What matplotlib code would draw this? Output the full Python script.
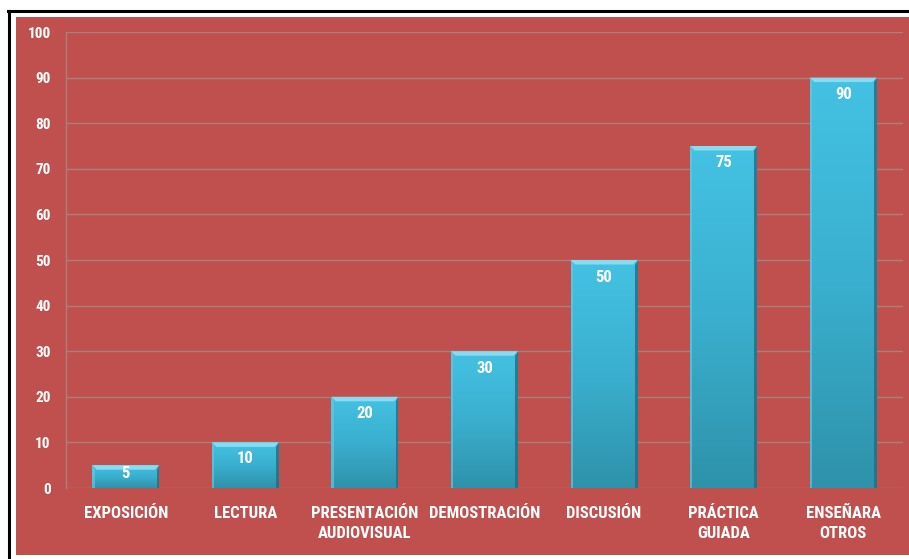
import matplotlib
matplotlib.use("Agg")
import matplotlib.pyplot as plt
import numpy as np
from matplotlib.patches import Rectangle, Polygon
from matplotlib.colors import LinearSegmentedColormap
from matplotlib.lines import Line2D
from matplotlib import font_manager

categories = ["EXPOSICIÓN", "LECTURA", "PRESENTACIÓN\nAUDIOVISUAL", "DEMOSTRACIÓN",
              "DISCUSIÓN", "PRÁCTICA\nGUIADA", "ENSEÑARA\nOTROS"]
values = [5, 10, 20, 30, 50, 75, 90]
yticks = [0, 10, 20, 30, 40, 50, 60, 70, 80, 90, 100]

names = {f.name for f in font_manager.fontManager.ttflist}
FONT = [n for n in ["Roboto Condensed", "Liberation Sans Narrow", "Roboto"] if n in names] + ["DejaVu Sans"]
RED = "#C0504D"

fig = plt.figure(figsize=(9.09, 5.59), dpi=100)
fig.patch.set_facecolor("white")
W, H = 909, 559
fig.patches.append(Rectangle((16 / W, 4 / H), (W - 16) / W, (H - 17 - 4) / H,
                             transform=fig.transFigure, facecolor=RED,
                             edgecolor="none", zorder=-10))
fig.lines.append(Line2D([8 / W, 908 / W], [1 - 11 / H, 1 - 11 / H], transform=fig.transFigure,
                        color="black", lw=2.2, zorder=-5))
fig.lines.append(Line2D([8.5 / W, 8.5 / W], [0, 1 - 11 / H], transform=fig.transFigure,
                        color="black", lw=2.2, zorder=-5))

ax = fig.add_axes([66 / W, 71 / H, (903 - 66) / W, (488 - 32) / H])
ax.set_facecolor("none")
x = np.arange(len(categories))
bars = ax.bar(x, values, width=0.56, color="#3BB3D4", edgecolor="none", zorder=3)
ax.set_xlim(-0.5, len(categories) - 0.5)
ax.set_ylim(0, 100)

cmap = LinearSegmentedColormap.from_list("bar", ["#2E92AA", "#3AAFCF", "#44C2E3"])
grad = np.linspace(0, 1, 256).reshape(-1, 1)
px_per_unit = (488 - 32) / 100.0
px_per_cat = (903 - 66) / len(categories)
for b, v in zip(bars, values):
    bx, bw, bh = b.get_x(), b.get_width(), b.get_height()
    im = ax.imshow(grad, extent=[bx, bx + bw, 0, bh], origin="lower", aspect="auto",
                   cmap=cmap, zorder=3.5)
    im.set_clip_path(b)
    t = 4.5 / px_per_unit
    s = 4.5 / px_per_cat
    ax.add_patch(Polygon([[bx, bh], [bx + bw, bh], [bx + bw - s, bh - t], [bx + s, bh - t]],
                         closed=True, facecolor="#86DDF2", edgecolor="none", zorder=4))
    ax.add_patch(Polygon([[bx + bw, bh], [bx + bw, 0], [bx + bw - s * 0.6, 0],
                          [bx + bw - s * 0.6, bh - t]],
                         closed=True, facecolor="#1F6E82", edgecolor="none", alpha=0.8, zorder=4))
    ax.add_patch(Polygon([[bx, bh], [bx, 0], [bx + s * 0.5, 0], [bx + s * 0.5, bh - t]],
                         closed=True, facecolor="#5ACBE6", edgecolor="none", alpha=0.7, zorder=4))
    off_px = min(17, bh * px_per_unit * 0.35)
    ax.annotate(str(v), (b.get_x() + bw / 2, bh), xytext=(0, -off_px * 0.72),
                textcoords="offset points", ha="center", va="center",
                color="white", fontsize=12, fontweight="bold", family=FONT, zorder=6)

ax.set_yticks(yticks)
ax.set_yticklabels([str(t) for t in yticks], color="white", fontsize=11,
                   fontweight="bold", family=FONT)
ax.set_xticks(x)
ax.set_xticklabels(categories, color="white", fontsize=12, fontweight="bold",
                   family=FONT, linespacing=1.45)
ax.tick_params(axis="y", length=0, pad=11)
ax.tick_params(axis="x", length=0, pad=13)
ax.grid(axis="y", color="#A8807E", lw=1.0, zorder=1)
for side in ["top", "right", "bottom"]:
    ax.spines[side].set_visible(False)
ax.spines["left"].set_color("#A8807E")
ax.spines["left"].set_linewidth(1.0)
ax.set_axisbelow(True)

fig.savefig("out.png", dpi=100, facecolor=fig.get_facecolor())
